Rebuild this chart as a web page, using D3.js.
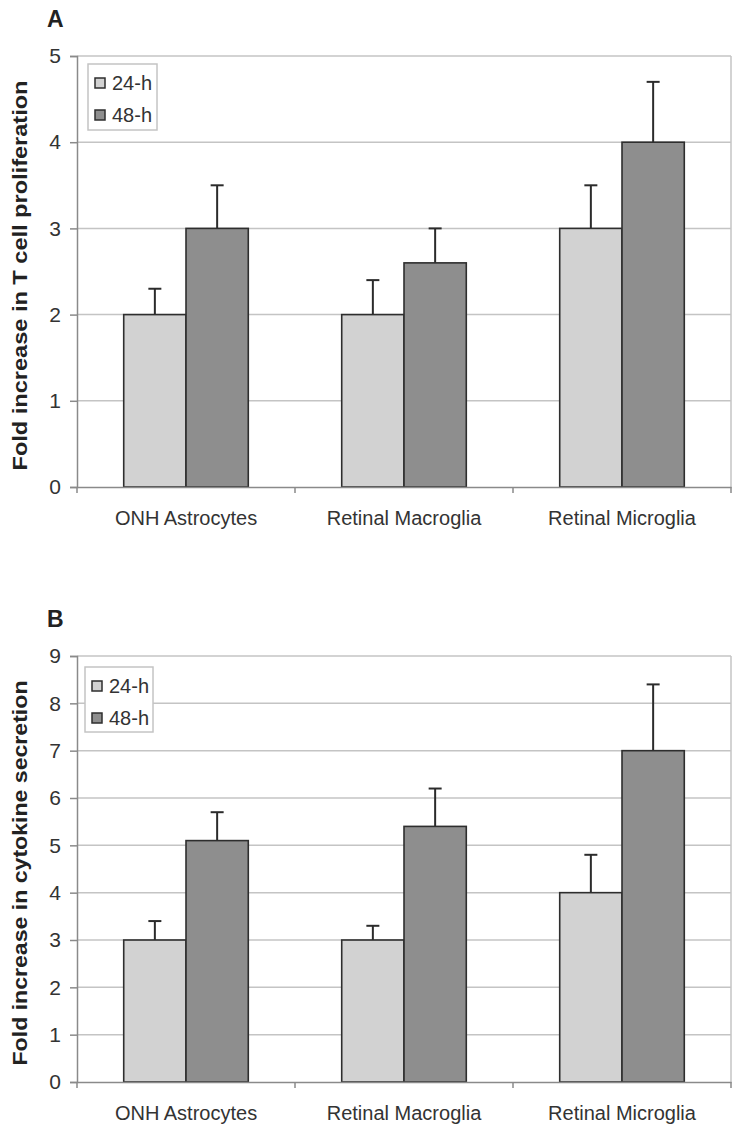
<!DOCTYPE html>
<html><head><meta charset="utf-8">
<script src="https://cdn.jsdelivr.net/npm/d3@7"></script>
<style>body{margin:0;background:#fff}svg{display:block}text{font-family:"Liberation Sans",Arial,sans-serif}</style>
</head><body>
<svg id="c" width="750" height="1136"></svg>
<script>
const categories = ["ONH Astrocytes", "Retinal Macroglia", "Retinal Microglia"];
const seriesNames = ["24-h", "48-h"];
// Panel A: T cell proliferation
const a24 = [2.0, 2.0, 3.0];
const a24err = [0.3, 0.4, 0.5];
const a48 = [3.0, 2.6, 4.0];
const a48err = [0.5, 0.4, 0.7];
const aTicks = [0, 1, 2, 3, 4, 5];
// Panel B: cytokine secretion
const b24 = [3.0, 3.0, 4.0];
const b24err = [0.4, 0.3, 0.8];
const b48 = [5.1, 5.4, 7.0];
const b48err = [0.6, 0.8, 1.4];
const bTicks = [0, 1, 2, 3, 4, 5, 6, 7, 8, 9];

const colors = ["#d2d2d2", "#8e8e8e"];
const svg = d3.select("#c");

function panel(opt) {
  const {label, title, v24, e24, v48, e48, ticks, top, bottom, left, right, labelY, titleLen, legend} = opt;
  const g = svg.append("g");
  const x = d3.scaleBand().domain(categories).range([left, right]).paddingInner(0).paddingOuter(0);
  const y = d3.scaleLinear().domain([0, d3.max(ticks)]).range([bottom, top]);
  const bw = x.bandwidth() / 3.5;
  const xs = d3.scaleBand().domain(seriesNames).range([0, 2 * bw]);

  // gridlines
  g.append("g").selectAll("line").data(ticks.filter(t => t > 0)).join("line")
    .attr("x1", left).attr("x2", right).attr("y1", d => y(d)).attr("y2", d => y(d))
    .attr("stroke", "#c4c4c4").attr("stroke-width", 1.5);
  // right border
  g.append("line").attr("x1", right).attr("x2", right).attr("y1", top).attr("y2", bottom)
    .attr("stroke", "#c4c4c4").attr("stroke-width", 1.5);

  // y axis
  const ya = g.append("g").attr("transform", `translate(${left},0)`)
    .call(d3.axisLeft(y).tickValues(ticks).tickSize(7).tickPadding(9).tickFormat(d3.format("d")));
  ya.select(".domain").attr("stroke", "#8a8a8a").attr("stroke-width", 1.5);
  ya.selectAll(".tick line").attr("stroke", "#8a8a8a").attr("stroke-width", 1.5);
  ya.selectAll(".tick text").attr("font-size", 21).attr("fill", "#333").attr("font-family", "Liberation Sans, Arial, sans-serif");

  // bars
  const data = [];
  categories.forEach((c, i) => {
    data.push({c, s: "24-h", v: v24[i], e: e24[i]});
    data.push({c, s: "48-h", v: v48[i], e: e48[i]});
  });
  const off = (x.bandwidth() - 2 * bw) / 2;
  const eg = g.append("g");
  eg.selectAll("line.v").data(data).join("line")
    .attr("x1", d => x(d.c) + off + xs(d.s) + bw / 2).attr("x2", d => x(d.c) + off + xs(d.s) + bw / 2)
    .attr("y1", d => y(d.v)).attr("y2", d => y(d.v + d.e))
    .attr("stroke", "#2b2b2b").attr("stroke-width", 2);
  eg.selectAll("line.c").data(data).join("line")
    .attr("x1", d => x(d.c) + off + xs(d.s) + bw / 2 - 6.5).attr("x2", d => x(d.c) + off + xs(d.s) + bw / 2 + 6.5)
    .attr("y1", d => y(d.v + d.e)).attr("y2", d => y(d.v + d.e))
    .attr("stroke", "#2b2b2b").attr("stroke-width", 2);
  g.append("g").selectAll("rect").data(data).join("rect")
    .attr("x", d => x(d.c) + off + xs(d.s)).attr("width", bw)
    .attr("y", d => y(d.v)).attr("height", d => y(0) - y(d.v))
    .attr("fill", d => colors[seriesNames.indexOf(d.s)])
    .attr("stroke", "#2e2e2e").attr("stroke-width", 1.6);

  // x axis
  const xa = g.append("g").attr("transform", `translate(0,${bottom})`)
    .call(d3.axisBottom(x).tickSize(0).tickPadding(0));
  xa.select(".domain").attr("stroke", "#8a8a8a").attr("stroke-width", 1.5);
  xa.selectAll(".tick text").attr("font-size", 20).attr("fill", "#333").attr("dy", 0).attr("y", labelY - bottom);
  // category boundary ticks
  g.append("g").selectAll("line").data([...categories.map(c => x(c)), right]).join("line")
    .attr("x1", d => d).attr("x2", d => d).attr("y1", bottom).attr("y2", bottom + 6)
    .attr("stroke", "#8a8a8a").attr("stroke-width", 1.5);

  // panel label
  g.append("text").attr("x", 47).attr("y", opt.labelTop).text(label)
    .attr("font-size", 23).attr("font-weight", "bold").attr("fill", "#222");
  // y title
  g.append("text").attr("transform", `translate(27,${(top + bottom) / 2 + opt.titleShift}) rotate(-90)`)
    .attr("text-anchor", "middle").attr("font-size", 20).attr("font-weight", "bold").attr("fill", "#222")
    .attr("textLength", titleLen).attr("lengthAdjust", "spacingAndGlyphs").text(title);

  // legend
  const lg = g.append("g");
  lg.append("rect").attr("x", legend.x).attr("y", legend.y).attr("width", legend.w).attr("height", legend.h)
    .attr("fill", "#fff").attr("stroke", "#c4c4c4").attr("stroke-width", 1.5);
  seriesNames.forEach((s, i) => {
    const cy = legend.y + 19 + i * 32;
    lg.append("rect").attr("x", legend.x + 7).attr("y", cy - 5).attr("width", 10).attr("height", 10)
      .attr("fill", colors[i]).attr("stroke", "#2e2e2e").attr("stroke-width", 1.5);
    lg.append("text").attr("x", legend.x + 24).attr("y", cy + 7).text(s)
      .attr("font-size", 20).attr("fill", "#333");
  });
}

panel({label: "A", title: "Fold increase in T cell proliferation", v24: a24, e24: a24err, v48: a48, e48: a48err,
  ticks: aTicks, top: 56, bottom: 487, left: 77, right: 731, labelY: 525, labelTop: 27, titleLen: 390, titleShift: 4,
  legend: {x: 88, y: 64, w: 69, h: 66}});
panel({label: "B", title: "Fold increase in cytokine secretion", v24: b24, e24: b24err, v48: b48, e48: b48err,
  ticks: bTicks, top: 656, bottom: 1082, left: 77, right: 731, labelY: 1120, labelTop: 627, titleLen: 385, titleShift: 4,
  legend: {x: 85, y: 667, w: 68, h: 65}});
</script>
</body></html>
